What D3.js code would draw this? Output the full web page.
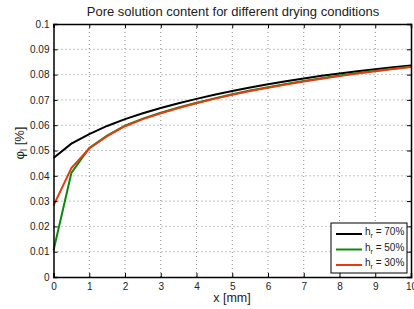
<!DOCTYPE html>
<html>
<head>
<meta charset="utf-8">
<script src="https://cdn.jsdelivr.net/npm/d3@7"></script>
<style>
    body { margin: 0; background: #fff; }
    text { font-family: "Liberation Sans", Arial, sans-serif; fill: #222; }
</style>
</head>
<body>
<script>
// Données
const xValues = [0, 0.5, 1, 1.5, 2, 2.5, 3, 3.5, 4, 4.5, 5, 5.5, 6, 6.5, 7, 7.5, 8, 8.5, 9, 9.5, 10];
const phi70 = [0.0470, 0.0527, 0.0565, 0.0597, 0.0624, 0.0647, 0.0668, 0.0687, 0.0704, 0.0720, 0.0735,
               0.0749, 0.0762, 0.0774, 0.0785, 0.0795, 0.0804, 0.0813, 0.0821, 0.0829, 0.0836];
const phi50 = [0.0105, 0.0411, 0.0510, 0.0559, 0.0598, 0.0626, 0.0649, 0.0670, 0.0689, 0.0706, 0.0722,
               0.0737, 0.0750, 0.0763, 0.0775, 0.0786, 0.0796, 0.0806, 0.0815, 0.0823, 0.0831];
const phi30 = [0.0282, 0.0431, 0.0508, 0.0557, 0.0596, 0.0624, 0.0647, 0.0668, 0.0687, 0.0704, 0.0720,
               0.0735, 0.0748, 0.0761, 0.0773, 0.0784, 0.0794, 0.0804, 0.0813, 0.0822, 0.0830];
const xTicks = [0, 1, 2, 3, 4, 5, 6, 7, 8, 9, 10];
const yTicks = [0, 0.01, 0.02, 0.03, 0.04, 0.05, 0.06, 0.07, 0.08, 0.09, 0.1];

const series = [
    { label: "70%", values: phi70, color: "#000000" },
    { label: "50%", values: phi50, color: "#0a8a0a" },
    { label: "30%", values: phi30, color: "#e23c12" }
];

const width = 414, height = 309;
const margin = { top: 24, right: 3, bottom: 32, left: 53.5 };

const svg = d3.select("body").append("svg").attr("width", width).attr("height", height);

const x = d3.scaleLinear().domain([0, 10]).range([margin.left, width - margin.right]);
const y = d3.scaleLinear().domain([0, 0.1]).range([height - margin.bottom, margin.top]);

// Grille pointillée
const grid = svg.append("g");
grid.selectAll(".gx").data(xTicks.slice(1, -1)).enter().append("line")
    .attr("x1", d => x(d)).attr("x2", d => x(d))
    .attr("y1", y(0)).attr("y2", y(0.1))
    .style("stroke", "#888").style("stroke-width", 1).style("stroke-dasharray", "1,3");
grid.selectAll(".gy").data(yTicks.slice(1, -1)).enter().append("line")
    .attr("x1", x(0)).attr("x2", x(10))
    .attr("y1", d => y(d)).attr("y2", d => y(d))
    .style("stroke", "#888").style("stroke-width", 1).style("stroke-dasharray", "1,3");

// Courbes
const line = d3.line().x((d, i) => x(xValues[i])).y(d => y(d));
series.forEach(s => {
    svg.append("path")
        .datum(s.values)
        .attr("d", line)
        .style("fill", "none")
        .style("stroke", s.color)
        .style("stroke-width", 2);
});

// Axes
const xAxis = svg.append("g").attr("transform", `translate(0,${y(0)})`)
    .call(d3.axisBottom(x).tickValues(xTicks).tickSize(-4).tickPadding(6).tickFormat(d3.format("d")));
const xAxisTop = svg.append("g").attr("transform", `translate(0,${y(0.1)})`)
    .call(d3.axisTop(x).tickValues(xTicks).tickSize(-4).tickFormat(""));
const yAxis = svg.append("g").attr("transform", `translate(${x(0)},0)`)
    .call(d3.axisLeft(y).tickValues(yTicks).tickSize(-4).tickPadding(4).tickFormat(d => d === 0 ? "0" : d3.format("")(+d.toFixed(2))));
const yAxisRight = svg.append("g").attr("transform", `translate(${x(10)},0)`)
    .call(d3.axisRight(y).tickValues(yTicks).tickSize(-4).tickFormat(""));

[xAxis, xAxisTop, yAxis, yAxisRight].forEach(a => {
    a.select(".domain").style("stroke", "#000").style("stroke-width", 1.5);
    a.selectAll(".tick line").style("stroke", "#000");
    a.selectAll("text").style("font-size", "10px").style("fill", "#222")
        .style("font-family", "'Liberation Sans', Arial, sans-serif");
});

// Titre et libellés
svg.append("text").attr("x", 233).attr("y", 16).attr("text-anchor", "middle")
    .style("font-size", "13px").text("Pore solution content for different drying conditions");
svg.append("text").attr("x", 232).attr("y", 302).attr("text-anchor", "middle")
    .style("font-size", "12.5px").text("x [mm]");
const yl = svg.append("text").attr("transform", "translate(24,143) rotate(-90)")
    .attr("text-anchor", "middle").style("font-size", "13px");
yl.append("tspan").text("\u03C6");
yl.append("tspan").attr("dy", 3).style("font-size", "9px").text("l");
yl.append("tspan").attr("dy", -3).text(" [%]");

// Légende
const legend = svg.append("g").attr("transform", "translate(331,223)");
legend.append("rect").attr("width", 76).attr("height", 50)
    .style("fill", "#fff").style("stroke", "#000").style("stroke-width", 1);
series.forEach((s, i) => {
    const row = legend.append("g").attr("transform", `translate(0,${9 + i * 15.5})`);
    row.append("line").attr("x1", 5).attr("x2", 31).attr("y1", 2).attr("y2", 2)
        .style("stroke", s.color).style("stroke-width", 2);
    const t = row.append("text").attr("x", 34).attr("y", 3).style("font-size", "10px");
    t.append("tspan").text("h");
    t.append("tspan").attr("dy", 3).style("font-size", "7px").text("r");
    t.append("tspan").attr("dy", -3).text(" = " + s.label);
});
</script>
</body>
</html>
